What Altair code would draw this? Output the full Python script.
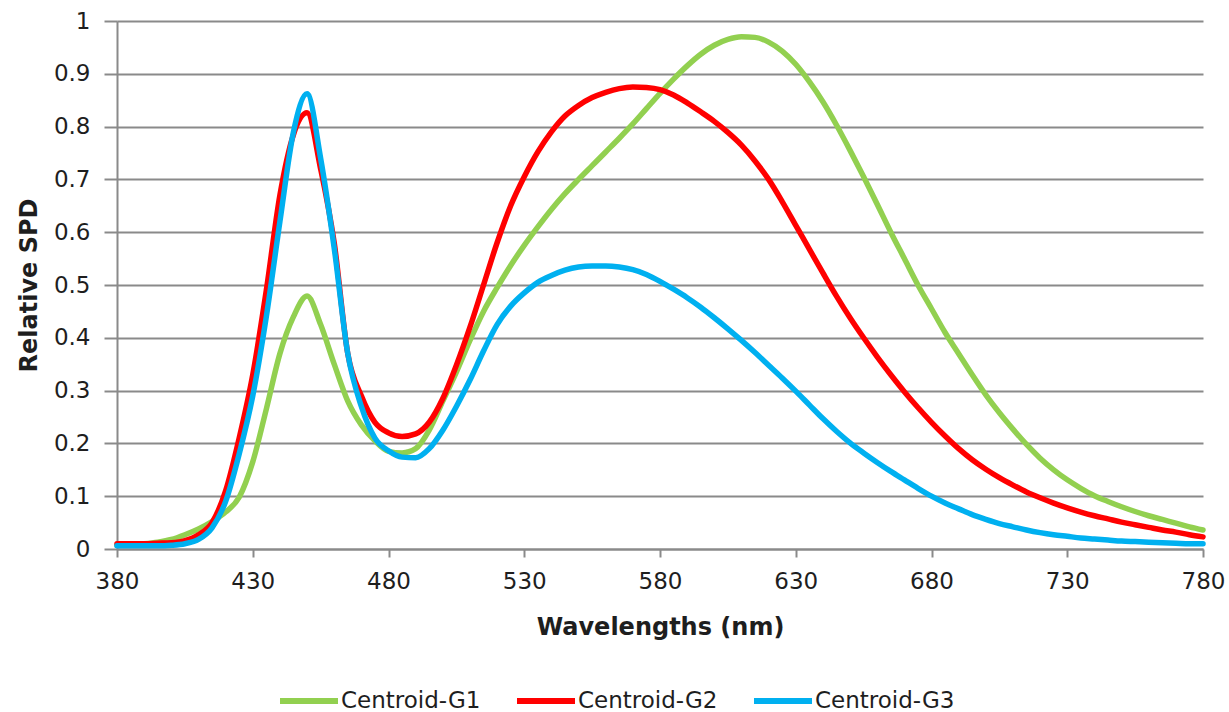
import altair as alt
import pandas as pd

wavelengths = list(range(380, 781, 5))

centroid_g1 = [
    0.007, 0.008, 0.010, 0.013, 0.018, 0.027, 0.038, 0.052, 0.070, 0.098,
    0.165, 0.265, 0.37, 0.44, 0.479, 0.425, 0.35, 0.28, 0.235, 0.205,
    0.185, 0.182, 0.19, 0.225, 0.28, 0.335, 0.395, 0.45, 0.495, 0.537,
    0.575, 0.61, 0.643, 0.673, 0.70, 0.726, 0.752, 0.778, 0.805, 0.834,
    0.863, 0.89, 0.915, 0.937, 0.954, 0.965, 0.97, 0.969, 0.96, 0.943,
    0.918, 0.885, 0.847, 0.803, 0.755, 0.705, 0.653, 0.60, 0.55, 0.50,
    0.455, 0.41, 0.37, 0.33, 0.292, 0.258, 0.227, 0.198, 0.172, 0.150,
    0.131, 0.115, 0.101, 0.090, 0.080, 0.071, 0.063, 0.056, 0.049, 0.042,
    0.036,
]

centroid_g2 = [
    0.010, 0.010, 0.010, 0.011, 0.012, 0.016, 0.027, 0.05, 0.11, 0.21,
    0.33, 0.49, 0.67, 0.785, 0.826, 0.72, 0.58, 0.37, 0.29, 0.24,
    0.22, 0.213, 0.218, 0.24, 0.285, 0.348, 0.42, 0.50, 0.58, 0.65,
    0.705, 0.752, 0.79, 0.82, 0.84, 0.855, 0.865, 0.872, 0.875, 0.874,
    0.87, 0.86, 0.845, 0.828, 0.81, 0.789, 0.765, 0.735, 0.70, 0.658,
    0.613, 0.568, 0.523, 0.479, 0.438, 0.40, 0.364, 0.33, 0.298, 0.268,
    0.24, 0.214, 0.19, 0.169, 0.151, 0.135, 0.121, 0.108, 0.097, 0.087,
    0.078, 0.070, 0.063, 0.057, 0.051, 0.046, 0.041, 0.036, 0.032, 0.027,
    0.023,
]

centroid_g3 = [
    0.006, 0.006, 0.006, 0.006, 0.007, 0.010, 0.018, 0.04, 0.09, 0.18,
    0.29, 0.44, 0.62, 0.79, 0.862, 0.74, 0.57, 0.37, 0.27, 0.21,
    0.186, 0.174, 0.173, 0.19, 0.225, 0.27, 0.32, 0.375, 0.425, 0.46,
    0.485, 0.505, 0.518, 0.528, 0.534, 0.536, 0.536, 0.534, 0.529, 0.52,
    0.507, 0.492, 0.476, 0.458, 0.438, 0.417, 0.395, 0.372, 0.348, 0.324,
    0.299, 0.273, 0.247, 0.223, 0.201, 0.182, 0.164, 0.147, 0.131, 0.115,
    0.10, 0.087, 0.076, 0.065, 0.056, 0.048, 0.042, 0.036, 0.031, 0.027,
    0.024, 0.021, 0.019, 0.017, 0.015, 0.014, 0.013, 0.012, 0.011, 0.010,
    0.010,
]

series_names = ["Centroid-G1", "Centroid-G2", "Centroid-G3"]
series_colors = ["#92D050", "#FF0000", "#00B0F0"]
x_ticks = [380, 430, 480, 530, 580, 630, 680, 730, 780]
y_ticks = [0, 0.1, 0.2, 0.3, 0.4, 0.5, 0.6, 0.7, 0.8, 0.9, 1.0]

rows = []
for i, (name, vals) in enumerate(zip(series_names, [centroid_g1, centroid_g2, centroid_g3])):
    for w, v in zip(wavelengths, vals):
        rows.append({"wavelength": w, "value": v, "series": name, "order": i})
df = pd.DataFrame(rows)

FONT = "DejaVu Sans"
TEXT = "#1e1e1e"
GRID = "#8a8a8a"

chart = alt.Chart(df).mark_line(
    strokeWidth=5.5, interpolate="monotone", strokeCap="round"
).encode(
    x=alt.X(
        "wavelength:Q",
        scale=alt.Scale(domain=[380, 780], nice=False, zero=False),
        axis=alt.Axis(
            values=x_ticks, title="Wavelengths (nm)", grid=False,
            tickSize=8, labelPadding=13, titlePadding=22,
            labelFlush=False, labelOverlap=False, labelBound=False,
        ),
    ),
    y=alt.Y(
        "value:Q",
        scale=alt.Scale(domain=[0, 1], nice=False),
        axis=alt.Axis(
            values=y_ticks, format=".1~f", title="Relative SPD", grid=True,
            tickSize=13, labelPadding=14, titlePadding=12,
            labelFlush=False, labelOverlap=False, labelBound=False,
        ),
    ),
    color=alt.Color(
        "series:N",
        scale=alt.Scale(domain=series_names, range=series_colors),
        legend=alt.Legend(
            title=None, orient="none", direction="horizontal",
            legendX=160, legendY=648, columns=3,
            symbolType="stroke", symbolSize=3364, symbolStrokeWidth=6,
            labelOffset=0, columnPadding=24, padding=0,
            labelFont=FONT, labelFontSize=23, labelColor=TEXT,
        ),
    ),
    detail="series:N",
    order="order:Q",
).properties(
    width=1086, height=528,
    autosize=alt.AutoSizeParams(type="none"),
    padding={"left": 117, "top": 21, "right": 26, "bottom": 163},
).configure(
    background="white"
).configure_view(
    stroke=None
).configure_axis(
    labelFont=FONT, labelFontSize=23, labelColor=TEXT,
    titleFont=FONT, titleFontSize=24, titleFontWeight="bold", titleColor=TEXT,
    domainColor=GRID, domainWidth=2, tickColor=GRID, tickWidth=2,
    gridColor=GRID, gridWidth=2, gridOpacity=1,
)

chart.save("out.html", embed_options={"renderer": "svg", "actions": False})
